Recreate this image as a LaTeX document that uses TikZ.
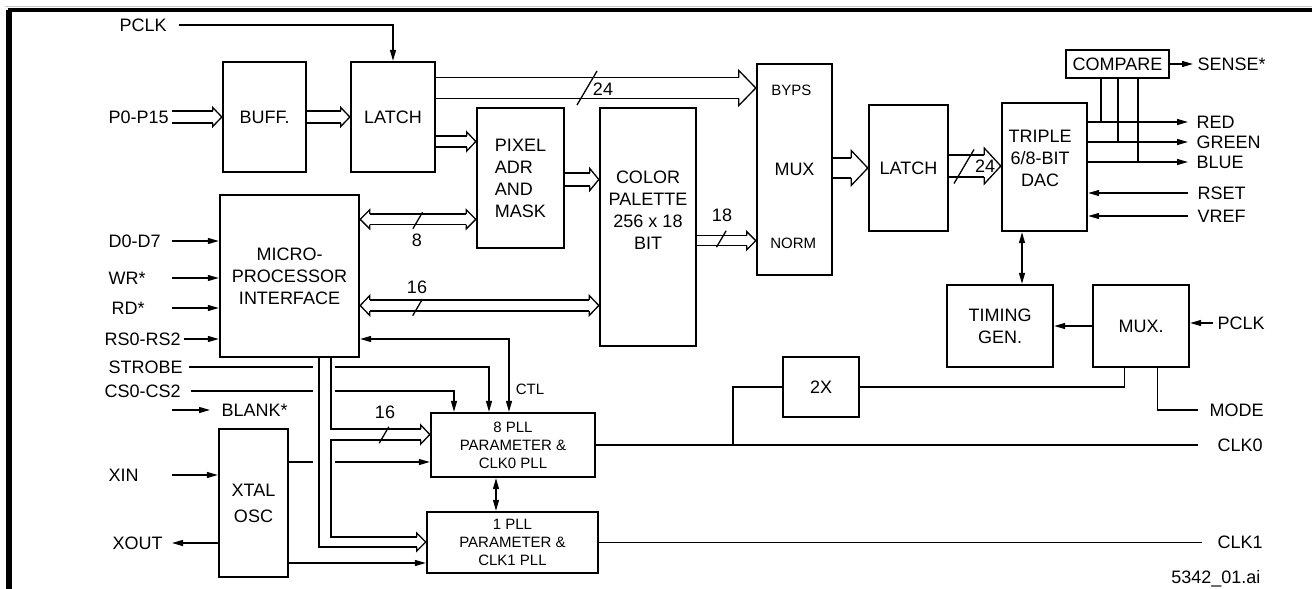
\documentclass[tikz,border=0pt]{standalone}
\usepackage{fontspec}
\setmainfont{Liberation Sans}
\usetikzlibrary{arrows.meta, calc}

% open bus arrow heads (right and left pointing)
\newcommand{\bushead}[4]{%
  \coordinate (#1u) at ([xshift=-#4,yshift=#2]#1);
  \coordinate (#1d) at ([xshift=-#4,yshift=-#2]#1);
  \draw (#1u) -- ([xshift=-#4,yshift=#3]#1) -- (#1) -- ([xshift=-#4,yshift=-#3]#1) -- (#1d);}
\newcommand{\busheadl}[4]{%
  \coordinate (#1u) at ([xshift=#4,yshift=#2]#1);
  \coordinate (#1d) at ([xshift=#4,yshift=-#2]#1);
  \draw (#1u) -- ([xshift=#4,yshift=#3]#1) -- (#1) -- ([xshift=#4,yshift=-#3]#1) -- (#1d);}
\newcommand{\busr}[5]{%
  \bushead{#2}{#3}{#4}{#5}
  \draw (#1 |- #2u) -- (#2u) (#1 |- #2d) -- (#2d);}
\newcommand{\busrl}[5]{%
  \busheadl{#1}{#3}{#4}{#5}
  \bushead{#2}{#3}{#4}{#5}
  \draw (#1u) -- (#2u) (#1d) -- (#2d);}

\begin{document}
\begin{tikzpicture}[x=0.5pt, y=-0.5pt, line width=0.65pt,
    >={Triangle[length=5.5pt,width=3pt]}]
  \tikzset{
    every node/.style={font=\fontsize{9}{11}\selectfont},
    blk/.style={draw, line width=1.2pt, inner sep=0pt, align=center},
    sig/.style={inner sep=0pt, anchor=west},
    small/.style={font=\fontsize{7.5}{9}\selectfont},
    slash/.pic={\draw (2.4pt,4.1pt) -- (-2.4pt,-4.1pt);},
    bigslash/.pic={\draw (5pt,8.5pt) -- (-5pt,-8.5pt);},
  }
  \useasboundingbox (0,0) rectangle (1312,589);

  % frame
  \draw[gray!45, line width=0.5pt] (5,6) -- (1312,6);
  \draw[line width=3pt] (9,589) -- (9,10);
  \draw[line width=2pt] (7.5,10) -- (1312,10);

  % blocks
  \node[blk, minimum width=41.5pt, minimum height=55pt] (buff) at (264.5,117) {BUFF.};
  \node[blk, minimum width=42pt, minimum height=55pt] (latchA) at (393,117) {LATCH};
  \node[blk, minimum width=43.5pt, minimum height=70pt, align=left] (pixel) at (520.5,178) {PIXEL\\ADR\\AND\\MASK};
  \node[blk, minimum width=48pt, minimum height=119pt] (palette) at (648,227) {};
  \node[align=center] at ([yshift=8.5pt]palette.center) {COLOR\\PALETTE\\256 x 18\\BIT};
  \node[blk, minimum width=37.5pt, minimum height=105.5pt] (mux) at (794.5,169.5) {MUX};
  \node[blk, minimum width=39.5pt, minimum height=63pt] (latchB) at (908.5,168) {LATCH};
  \node[blk, minimum width=42.5pt, minimum height=64pt] (dac) at (1044.5,167) {};
  \node[align=center] at ([xshift=-2.2pt,yshift=4.5pt]dac.center) {TRIPLE\\6/8-BIT\\DAC};
  \node[blk, minimum width=51.5pt, minimum height=14pt] (compare) at (1117.5,64) {COMPARE};
  \node[blk, minimum width=53pt, minimum height=41pt] (timing) at (1000,326) {TIMING\\GEN.};
  \node[blk, minimum width=48pt, minimum height=41pt] (muxp) at (1141,326) {MUX.};
  \node[blk, minimum width=38pt, minimum height=30pt] (twox) at (821,387) {2X};
  \node[blk, minimum width=69.5pt, minimum height=81pt] (mpi) at (289.5,276) {MICRO-\\PROCESSOR\\INTERFACE};
  \node[blk, small, minimum width=82pt, minimum height=32pt] (pll8) at (513,445) {8 PLL\\PARAMETER \&\\CLK0 PLL};
  \node[blk, small, minimum width=85.5pt, minimum height=30.5pt] (pll1) at (512.5,542.5) {1 PLL\\PARAMETER \&\\CLK1 PLL};
  \node[blk, minimum width=34.5pt, minimum height=74pt, font=\fontsize{9}{13}\selectfont] (xtal) at (253.5,503) {XTAL\\OSC};

  % signal names
  \node[sig] (pclk) at (119,25) {PCLK};
  \node[sig] (p0) at (108,117) {P0-P15};
  \node[sig] (d0) at (108,241) {D0-D7};
  \node[sig] (wr) at (108,278) {WR*};
  \node[sig] (rd) at (111,308) {RD*};
  \node[sig] (rs) at (104,339) {RS0-RS2};
  \node[sig] (strobe) at (108,367) {STROBE};
  \node[sig] (cs) at (104,391) {CS0-CS2};
  \node[sig] (blank) at (221,410) {BLANK*};
  \node[sig] (xin) at (108,475) {XIN};
  \node[sig] (xout) at (112,543) {XOUT};
  \node[sig] (sense) at (1197,64) {SENSE*};
  \node[sig] (red) at (1196,122) {RED};
  \node[sig] (green) at (1196,142) {GREEN};
  \node[sig] (blue) at (1196,162) {BLUE};
  \node[sig] (rset) at (1197,193) {RSET};
  \node[sig] (vref) at (1197,216) {VREF};
  \node[sig] (pclkr) at (1217,323) {PCLK};
  \node[sig] (mode) at (1209,410) {MODE};
  \node[sig] (clk0) at (1217,445) {CLK0};
  \node[sig] (clk1) at (1217,542.5) {CLK1};
  \node[anchor=east, inner sep=0pt] at (1261,579) {5342\_01.ai};
  \node[small, anchor=west] at (764,90) {BYPS};
  \node[small, anchor=west] at (763,243) {NORM};
  \node[small] (ctl) at (530,389) {CTL};

  % bus widths
  \node at (603,89) {24};
  \node at (985,166) {24};
  \node at (417,240) {8};
  \node at (417,287) {16};
  \node at (722,215) {18};
  \node at (385,412) {16};
  \pic at (587,88) {bigslash};
  \pic at (964,166.5) {bigslash};
  \pic at (417.7,220.5) {slash};
  \pic at (417.5,307.5) {slash};
  \pic at (721.3,239) {slash};
  \pic at (384,435) {slash};

  % data buses
  \coordinate (inx) at (172,0);
  \coordinate (bufin) at (buff.west);
  \busr{inx}{bufin}{3pt}{4.75pt}{4.5pt}
  \coordinate (latin) at (latchA.west);
  \busr{buff.east}{latin}{3pt}{4.75pt}{4.5pt}
  \coordinate (byps) at (mux.west |- 0,88);
  \busr{latchA.east}{byps}{5.15pt}{8.75pt}{8.5pt}
  \coordinate (pixin) at (pixel.west |- 0,141.5);
  \busr{latchA.east}{pixin}{2.75pt}{4.75pt}{4.5pt}
  \coordinate (palin) at (palette.west |- 0,179.5);
  \busr{pixel.east}{palin}{3.3pt}{5.5pt}{4.5pt}
  \coordinate (normin) at (mux.west |- 0,240.7);
  \busr{palette.east}{normin}{2.5pt}{4.5pt}{4.5pt}
  \coordinate (l2in) at (latchB.west);
  \busr{mux.east}{l2in}{5pt}{8.75pt}{8.3pt}
  \coordinate (dacin) at (dac.west |- 0,166);
  \busr{latchB.east}{dacin}{5.5pt}{9pt}{8.3pt}
  \coordinate (mpia) at (mpi.east |- 0,219.3);
  \coordinate (pixb) at (pixel.west |- mpia);
  \busrl{mpia}{pixb}{2.6pt}{4.8pt}{4.8pt}
  \coordinate (mpic) at (mpi.east |- 0,305.5);
  \coordinate (palb) at (palette.west |- mpic);
  \busrl{mpic}{palb}{2.75pt}{5pt}{4.8pt}

  % 16 bit bus to the PLLs
  \coordinate (bo) at (319,0);
  \coordinate (bi) at (331,0);
  \coordinate (p8bus) at (pll8.west |- 0,434.5);
  \coordinate (p1bus) at (pll1.west |- 0,542);
  \bushead{p8bus}{2.75pt}{4.75pt}{4.5pt}
  \bushead{p1bus}{2.5pt}{4.5pt}{4.5pt}
  \draw (bi |- mpi.south) |- (p8busu);
  \draw (p8busd) -| (bi |- p1busu) -- (p1busu);
  \draw (bo |- mpi.south) |- (p1busd);

  % left inputs
  \draw[->] ([xshift=6pt]pclk.east) -| (latchA.north);
  \draw[->] (inx |- d0) -- (mpi.west |- d0);
  \draw[->] (inx |- wr) -- (mpi.west |- wr);
  \draw[->] (inx |- rd) -- (mpi.west |- rd);
  \draw[->] ([xshift=1.5pt]rs.east) -- (mpi.west |- rs);
  \draw[->] (inx |- blank) -- ([xshift=-5.5pt]blank.west);
  \draw[->] (inx |- xin) -- (xtal.west |- xin);
  \draw[->] (xtal.west |- xout) -- (inx |- xout);

  % control lines to the PLL block
  \coordinate (gapl) at (313,0);
  \coordinate (gapr) at (335,0);
  \coordinate (stbx) at (489,0);
  \coordinate (csx) at (454,0);
  \coordinate (ctlx) at (509,0);
  \draw ([xshift=3pt]strobe.east) -- (gapl |- strobe);
  \draw[->] (gapr |- strobe) -| (stbx |- pll8.north);
  \draw ([xshift=5pt]cs.east) -- (gapl |- cs);
  \draw[->] (gapr |- cs) -| (csx |- pll8.north);
  \draw[<->] (mpi.east |- rs) -| (ctlx |- pll8.north);
  \coordinate (xo8) at (xtal.east |- 0,462);
  \draw (xo8) -- (gapl |- xo8);
  \draw[->] (gapr |- xo8) -- (pll8.west |- xo8);
  \coordinate (xo1) at (xtal.east |- 0,563);
  \draw[->] (xo1) -- (pll1.west |- xo1);
  \coordinate (pllx) at (496,0);
  \draw[<->] (pllx |- pll8.south) -- (pllx |- pll1.north);

  % DAC outputs and inputs
  \draw[->] (compare.east) -- ([xshift=-2pt]sense.west);
  \coordinate (outx) at (1188,0);
  \foreach \col in {red,green,blue}
    \draw[->] (dac.east |- \col) -- (outx |- \col);
  \coordinate (tapr) at (1101,0);
  \coordinate (tapg) at (1118,0);
  \coordinate (tapb) at (1138,0);
  \draw (tapr |- compare.south) -- (tapr |- red);
  \draw (tapg |- compare.south) -- (tapg |- green);
  \draw (tapb |- compare.south) -- (tapb |- blue);
  \draw[->] (outx |- rset) -- (dac.east |- rset);
  \draw[->] (outx |- vref) -- (dac.east |- vref);

  % timing and clocks
  \coordinate (dtx) at (1022,0);
  \draw[<->] (dtx |- dac.south) -- (dtx |- timing.north);
  \draw[->] (muxp.west) -- (timing.east);
  \draw[->] ([xshift=-2pt]pclkr.west) -- (muxp.east |- pclkr);
  \draw ([xshift=-8.35pt]muxp.south) |- (twox.east);
  \draw ([xshift=8.35pt]muxp.south) |- ([xshift=-5.5pt]mode.west);
  \coordinate (tapc) at (733,0);
  \draw (twox.west) -| (tapc |- pll8.east);
  \draw (pll8.east) -- ([xshift=-9.5pt]clk0.west);
  \draw (pll1.east) -- ([xshift=-7.5pt]clk1.west);
\end{tikzpicture}
\end{document}
